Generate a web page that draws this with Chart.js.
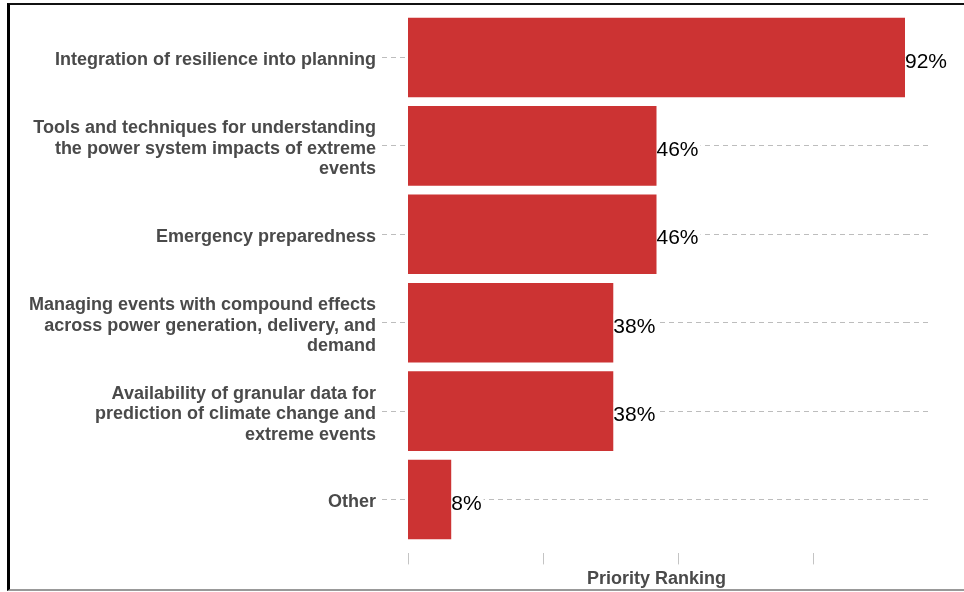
<!DOCTYPE html>
<html>
<head>
<meta charset="utf-8">
<script src="https://cdn.jsdelivr.net/npm/chart.js@4.4.0/dist/chart.umd.min.js"></script>
<style>
  html, body { margin: 0; padding: 0; background: #fff; overflow: hidden; }
  #wrap { position: relative; width: 964px; height: 592px; }
  #frame { position: absolute; left: 7px; top: 3px; width: 1000px; height: 588px; box-sizing: border-box;
           border-left: 3px solid #000; border-top: 2px solid #111; border-bottom: 2px solid #999; pointer-events: none; }
</style>
</head>
<body>
<div id="wrap">
  <canvas id="c" width="964" height="592"></canvas>
  <div id="frame"></div>
</div>
<script>
const categories = [
  "Integration of resilience into planning",
  ["Tools and techniques for understanding", "the power system impacts of extreme", "events"],
  "Emergency preparedness",
  ["Managing events with compound effects", "across power generation, delivery, and", "demand"],
  ["Availability of granular data for", "prediction of climate change and", "extreme events"],
  "Other"
];
const values = [92, 46, 46, 38, 38, 8];
const valueLabels = ["92%", "46%", "46%", "38%", "38%", "8%"];
const xTickValues = [0, 25, 50, 75];
const axisTitle = "Priority Ranking";

const FONT = "'Liberation Sans', Arial, sans-serif";
const TEXT = '#4a4a4a';
const GRID = '#bdbdbd';

const valueLabelPlugin = {
  id: 'valueLabels',
  afterDatasetsDraw(chart) {
    const ctx = chart.ctx;
    const meta = chart.getDatasetMeta(0);
    ctx.save();
    ctx.font = "21px " + FONT;
    ctx.textAlign = 'left';
    ctx.textBaseline = 'alphabetic';
    meta.data.forEach((bar, i) => {
      const txt = valueLabels[i];
      const w = ctx.measureText(txt).width;
      ctx.fillStyle = '#fff';
      ctx.fillRect(bar.x + 0.5, bar.y - 9, w + 1.5, 21);
      ctx.fillStyle = '#000';
      ctx.fillText(txt, bar.x, bar.y + 10);
    });
    ctx.restore();
  }
};

new Chart(document.getElementById('c'), {
  type: 'bar',
  data: {
    labels: categories,
    datasets: [{
      data: values,
      backgroundColor: '#CC3333',
      borderWidth: 0,
      barPercentage: 0.9,
      categoryPercentage: 1.0
    }]
  },
  options: {
    indexAxis: 'y',
    responsive: false,
    animation: false,
    devicePixelRatio: 1,
    layout: { padding: { left: 10, right: 34, top: 13.3, bottom: 2 } },
    plugins: { legend: { display: false }, tooltip: { enabled: false } },
    scales: {
      x: {
        type: 'linear', position: 'bottom', min: 0, max: 92, weight: 0,
        grid: { display: false }, border: { display: false },
        ticks: { display: false },
        afterFit(s) { s.height = 9.7; s.paddingLeft = 0; s.paddingRight = 0; }
      },
      x2: {
        type: 'linear', position: 'bottom', min: 0, max: 92, weight: 1,
        afterBuildTicks(s) { s.ticks = xTickValues.map(v => ({ value: v })); },
        grid: { drawOnChartArea: false, drawTicks: true, tickLength: 11, tickColor: '#c4c4c4', tickWidth: 1 },
        border: { display: false },
        ticks: { display: false },
        title: { display: true, text: axisTitle, color: TEXT,
                 font: { family: FONT, size: 18, weight: 'bold', lineHeight: 1.2 },
                 padding: { top: 4, bottom: 0 } },
        afterFit(s) { s.height = 36.6; s.paddingLeft = 0; s.paddingRight = 0; }
      },
      y: {
        type: 'category', position: 'left', offset: true,
        grid: { offset: false, color: GRID, lineWidth: 1, tickBorderDash: [5, 4],
                tickColor: GRID, tickLength: 26, drawTicks: true },
        border: { display: false, dash: [5, 4] },
        ticks: { color: TEXT, padding: 6, autoSkip: false, labelOffset: 3,
                 font: { family: FONT, size: 18, weight: 'bold', lineHeight: 1.14 } },
        afterFit(s) { s.width = 398; s.paddingTop = 0; s.paddingBottom = 0; }
      },
      y2: {
        type: 'category', position: 'right', offset: true,
        grid: { offset: false, drawOnChartArea: false, color: GRID, tickBorderDash: [5, 4],
                tickColor: GRID, tickLength: 25, drawTicks: true },
        border: { display: false, dash: [5, 4] },
        ticks: { display: false },
        afterFit(s) { s.width = 25; s.paddingTop = 0; s.paddingBottom = 0; }
      }
    }
  },
  plugins: [valueLabelPlugin]
});
</script>
</body>
</html>
